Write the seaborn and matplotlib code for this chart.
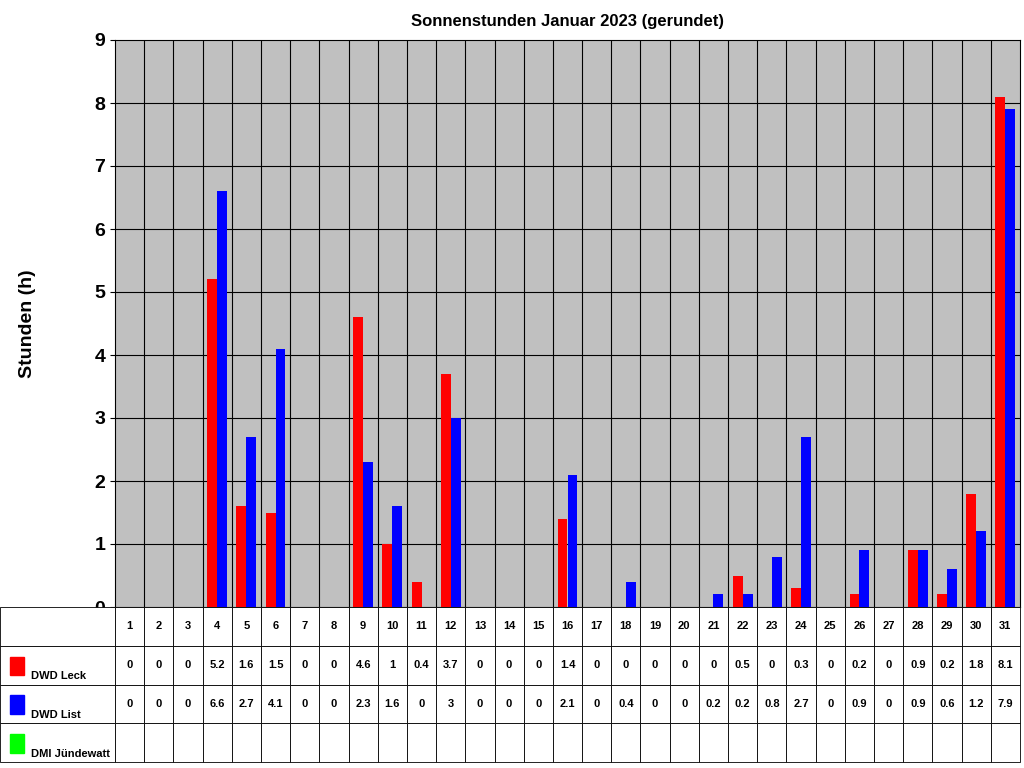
import matplotlib
matplotlib.use("Agg")
import matplotlib.pyplot as plt
import seaborn as sns
import pandas as pd
import numpy as np
from matplotlib.patches import Rectangle

plt.rcParams["font.family"] = ["Liberation Sans", "DejaVu Sans"]

days = [str(d) for d in range(1, 32)]
leck = [0,0,0,5.2,1.6,1.5,0,0,4.6,1,0.4,3.7,0,0,0,1.4,0,0,0,0,0,0.5,0,0.3,0,0.2,0,0.9,0.2,1.8,8.1]
lst = [0,0,0,6.6,2.7,4.1,0,0,2.3,1.6,0,3,0,0,0,2.1,0,0.4,0,0,0.2,0.2,0.8,2.7,0,0.9,0,0.9,0.6,1.2,7.9]
series = ["DWD Leck", "DWD List", "DMI Jündewatt"]
colors = ["#FF0000", "#0000FF", "#00FF00"]

df = pd.DataFrame({"Tag": days * 2, "Wert": leck + lst,
                   "Station": [series[0]] * 31 + [series[1]] * 31})

fig = plt.figure(figsize=(10.24, 7.68), dpi=100)
ax = fig.add_axes([115/1024, 1-607/768, 905/1024, 567/768])
ax.set_facecolor("#C0C0C0")
sns.barplot(data=df, x="Tag", y="Wert", hue="Station", palette=colors[:2],
            width=0.68, ax=ax, legend=False, saturation=1, zorder=3)
ax.set_xlim(-0.5, 30.5)
ax.set_ylim(0, 9)
ax.set_yticks(range(10))
ax.set_yticklabels([str(i) for i in range(10)], fontsize=14, fontweight="bold")
ax.set_xticks([])
ax.set_xlabel("")
ax.set_ylabel("Stunden (h)", fontsize=14, fontweight="bold", labelpad=42)
for y in range(1, 9):
    ax.axhline(y, color="black", lw=0.8, zorder=1)
for x in np.arange(0.5, 30.5, 1):
    ax.axvline(x, color="black", lw=0.8, zorder=1)
for s in ax.spines.values():
    s.set_color("black")
ax.set_title("Sonnenstunden Januar 2023 (gerundet)", fontsize=12, fontweight="bold", pad=10)

# table
tax = fig.add_axes([0, 6/768, 1020/1024, 155/768])
tax.axis("off")
fmt = lambda v: "%g" % v
cells = [[""] + days,
         [""] + [fmt(v) for v in leck],
         [""] + [fmt(v) for v in lst],
         [""] * 32]
tbl = tax.table(cellText=cells, bbox=[0, 0, 1, 1], cellLoc="center")
tbl.auto_set_font_size(False)
w0 = 115/1020
for (r, c), cell in tbl.get_celld().items():
    cell.set_width(w0 if c == 0 else (1 - w0) / 31)
    cell.set_height(0.25)
    cell.set_linewidth(0.6)
    cell.get_text().set_fontsize(8)
    cell.get_text().set_fontweight("bold")
for i, (name, col) in enumerate(zip(series, colors)):
    y0 = 0.75 - 0.25 * (i + 1)
    tax.add_patch(Rectangle((0.01, y0 + 0.06), 0.014, 0.12, color=col, transform=tax.transAxes))
    tax.text(0.03, y0 + 0.02, name, fontsize=8, fontweight="bold", transform=tax.transAxes, va="bottom")

fig.savefig("out.png", dpi=100)
